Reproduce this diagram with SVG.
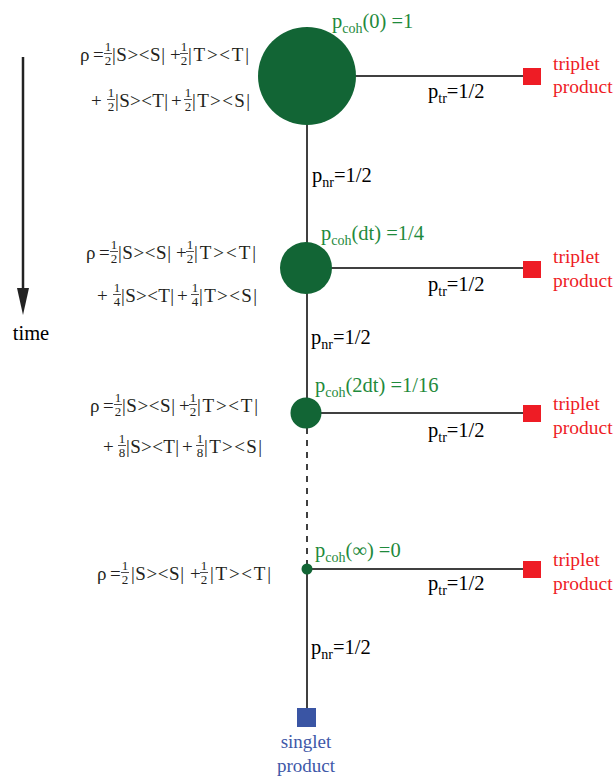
<svg xmlns="http://www.w3.org/2000/svg" width="614" height="777" viewBox="0 0 614 777">
<style>
.t{font-family:"Liberation Serif","Times New Roman",serif;}
.lab{font-size:20.5px;fill:#000;}
.sub{font-size:14px;}
.coh{font-size:20.5px;fill:#1f8a3c;}
.red{font-size:19.5px;fill:#ee1c25;}
.blue{font-size:19px;fill:#4058a8;}
.f{font-size:19px;fill:#231f20;}
.fr{font-size:13px;fill:#231f20;text-anchor:middle;}
.ln{stroke:#000;stroke-width:1.5;fill:none;}
.node{fill:#126535;}
.bar{stroke:#231f20;stroke-width:0.8;}
</style>

<g id="connectors">
<line class="ln" x1="307" y1="76" x2="307" y2="428"/>
<line class="ln" x1="307" y1="428" x2="307" y2="566" stroke-dasharray="6,6"/>
<line class="ln" x1="307" y1="566" x2="307" y2="710"/>
<line class="ln" x1="307" y1="76" x2="524" y2="76"/>
<line class="ln" x1="306" y1="268" x2="524" y2="268"/>
<line class="ln" x1="306" y1="413" x2="524" y2="413"/>
<line class="ln" x1="306" y1="569" x2="524" y2="569"/>
</g>

<g id="time-axis">
<line x1="23" y1="57" x2="23" y2="290" stroke="#222" stroke-width="2.5"/>
<polygon points="17,288 29,288 23,315" fill="#222"/>
<text class="t lab" x="31" y="340" text-anchor="middle">time</text>
</g>

<g id="state0">
<circle class="node" cx="307" cy="76" r="49"/>
<text class="t coh" x="332" y="28">p<tspan class="sub" dy="5">coh</tspan><tspan dy="-5">(0) =1</tspan></text>
</g>
<g id="state1">
<circle class="node" cx="306" cy="268" r="26"/>
<text class="t coh" x="321" y="240">p<tspan class="sub" dy="5">coh</tspan><tspan dy="-5">(dt) =1/4</tspan></text>
</g>
<g id="state2">
<circle class="node" cx="306" cy="413" r="15.5"/>
<text class="t coh" x="315" y="392">p<tspan class="sub" dy="5">coh</tspan><tspan dy="-5">(2dt) =1/16</tspan></text>
</g>
<g id="state3">
<circle class="node" cx="307" cy="569" r="5.5"/>
<text class="t coh" x="315" y="557">p<tspan class="sub" dy="5">coh</tspan><tspan dy="-5">(∞) =0</tspan></text>
</g>

<g id="labels">
<text class="t lab" x="428" y="98">p<tspan class="sub" dy="5">tr</tspan><tspan dy="-5">=1/2</tspan></text>
<text class="t lab" x="428" y="291">p<tspan class="sub" dy="5">tr</tspan><tspan dy="-5">=1/2</tspan></text>
<text class="t lab" x="428" y="437">p<tspan class="sub" dy="5">tr</tspan><tspan dy="-5">=1/2</tspan></text>
<text class="t lab" x="428" y="590">p<tspan class="sub" dy="5">tr</tspan><tspan dy="-5">=1/2</tspan></text>
<text class="t lab" x="312" y="182">p<tspan class="sub" dy="5">nr</tspan><tspan dy="-5">=1/2</tspan></text>
<text class="t lab" x="311" y="344">p<tspan class="sub" dy="5">nr</tspan><tspan dy="-5">=1/2</tspan></text>
<text class="t lab" x="311" y="654">p<tspan class="sub" dy="5">nr</tspan><tspan dy="-5">=1/2</tspan></text>
</g>

<g id="triplet0">
<rect x="523" y="68" width="18" height="17" fill="#ee1c25"/>
<text class="t red" x="553" y="70">triplet</text>
<text class="t red" x="553" y="93">product</text>
</g>
<g id="triplet1">
<rect x="523" y="261" width="18" height="17" fill="#ee1c25"/>
<text class="t red" x="553" y="263">triplet</text>
<text class="t red" x="553" y="287">product</text>
</g>
<g id="triplet2">
<rect x="523" y="405" width="18" height="17" fill="#ee1c25"/>
<text class="t red" x="553" y="410">triplet</text>
<text class="t red" x="553" y="434">product</text>
</g>
<g id="triplet3">
<rect x="523" y="561" width="18" height="17" fill="#ee1c25"/>
<text class="t red" x="553" y="566">triplet</text>
<text class="t red" x="553" y="590">product</text>
</g>
<g id="singlet">
<rect x="297" y="708" width="19" height="19" fill="#3a55a4"/>
<text class="t blue" x="306" y="748" text-anchor="middle">singlet</text>
<text class="t blue" x="306" y="772" text-anchor="middle">product</text>
</g>

<g id="rho0">
<text class="t f" x="80" y="61">ρ</text><text class="t f" x="93" y="61">=</text>
<text class="t fr" x="108" y="51">1</text><line class="bar" x1="104" y1="53.5" x2="112" y2="53.5"/><text class="t fr" x="108" y="65">2</text>
<text class="t f" x="112" y="61" textLength="53">|S&gt;&lt;S|</text>
<text class="t f" x="170" y="61">+</text>
<text class="t fr" x="184" y="51">1</text><line class="bar" x1="180" y1="53.5" x2="188" y2="53.5"/><text class="t fr" x="184" y="65">2</text>
<text class="t f" x="188" y="61" textLength="61">|T&gt;&lt;T|</text>
<text class="t f" x="91" y="107">+</text>
<text class="t fr" x="111" y="97">1</text><line class="bar" x1="107" y1="99.5" x2="115" y2="99.5"/><text class="t fr" x="111" y="111">2</text>
<text class="t f" x="115" y="107" textLength="53">|S&gt;&lt;T|</text>
<text class="t f" x="171" y="107">+</text>
<text class="t fr" x="188" y="97">1</text><line class="bar" x1="184" y1="99.5" x2="192" y2="99.5"/><text class="t fr" x="188" y="111">2</text>
<text class="t f" x="192" y="107" textLength="58">|T&gt;&lt;S|</text>
</g>

<g id="rho1">
<text class="t f" x="86" y="259">ρ</text><text class="t f" x="99" y="259">=</text>
<text class="t fr" x="114" y="249">1</text><line class="bar" x1="110" y1="251.5" x2="118" y2="251.5"/><text class="t fr" x="114" y="263">2</text>
<text class="t f" x="118" y="259" textLength="53">|S&gt;&lt;S|</text>
<text class="t f" x="176" y="259">+</text>
<text class="t fr" x="190" y="249">1</text><line class="bar" x1="186" y1="251.5" x2="194" y2="251.5"/><text class="t fr" x="190" y="263">2</text>
<text class="t f" x="194" y="259" textLength="62">|T&gt;&lt;T|</text>
<text class="t f" x="97" y="302">+</text>
<text class="t fr" x="117" y="292">1</text><line class="bar" x1="113" y1="294.5" x2="121" y2="294.5"/><text class="t fr" x="117" y="306">4</text>
<text class="t f" x="121" y="302" textLength="53">|S&gt;&lt;T|</text>
<text class="t f" x="177" y="302">+</text>
<text class="t fr" x="195" y="292">1</text><line class="bar" x1="191" y1="294.5" x2="199" y2="294.5"/><text class="t fr" x="195" y="306">4</text>
<text class="t f" x="199" y="302" textLength="58">|T&gt;&lt;S|</text>
</g>

<g id="rho2">
<text class="t f" x="90" y="412">ρ</text><text class="t f" x="103" y="412">=</text>
<text class="t fr" x="118" y="402">1</text><line class="bar" x1="114" y1="404.5" x2="122" y2="404.5"/><text class="t fr" x="118" y="416">2</text>
<text class="t f" x="122" y="412" textLength="53">|S&gt;&lt;S|</text>
<text class="t f" x="179" y="412">+</text>
<text class="t fr" x="193" y="402">1</text><line class="bar" x1="189" y1="404.5" x2="197" y2="404.5"/><text class="t fr" x="193" y="416">2</text>
<text class="t f" x="197" y="412" textLength="61">|T&gt;&lt;T|</text>
<text class="t f" x="103" y="453">+</text>
<text class="t fr" x="122" y="443">1</text><line class="bar" x1="118" y1="445.5" x2="126" y2="445.5"/><text class="t fr" x="122" y="457">8</text>
<text class="t f" x="126" y="453" textLength="53">|S&gt;&lt;T|</text>
<text class="t f" x="182" y="453">+</text>
<text class="t fr" x="200" y="443">1</text><line class="bar" x1="196" y1="445.5" x2="204" y2="445.5"/><text class="t fr" x="200" y="457">8</text>
<text class="t f" x="204" y="453" textLength="58">|T&gt;&lt;S|</text>
</g>

<g id="rho3">
<text class="t f" x="97" y="580">ρ</text><text class="t f" x="110" y="580">=</text>
<text class="t fr" x="125" y="570">1</text><line class="bar" x1="121" y1="572.5" x2="129" y2="572.5"/><text class="t fr" x="125" y="584">2</text>
<text class="t f" x="131" y="580" textLength="53">|S&gt;&lt;S|</text>
<text class="t f" x="190" y="580">+</text>
<text class="t fr" x="204" y="570">1</text><line class="bar" x1="200" y1="572.5" x2="208" y2="572.5"/><text class="t fr" x="204" y="584">2</text>
<text class="t f" x="210" y="580" textLength="61">|T&gt;&lt;T|</text>
</g>
</svg>
